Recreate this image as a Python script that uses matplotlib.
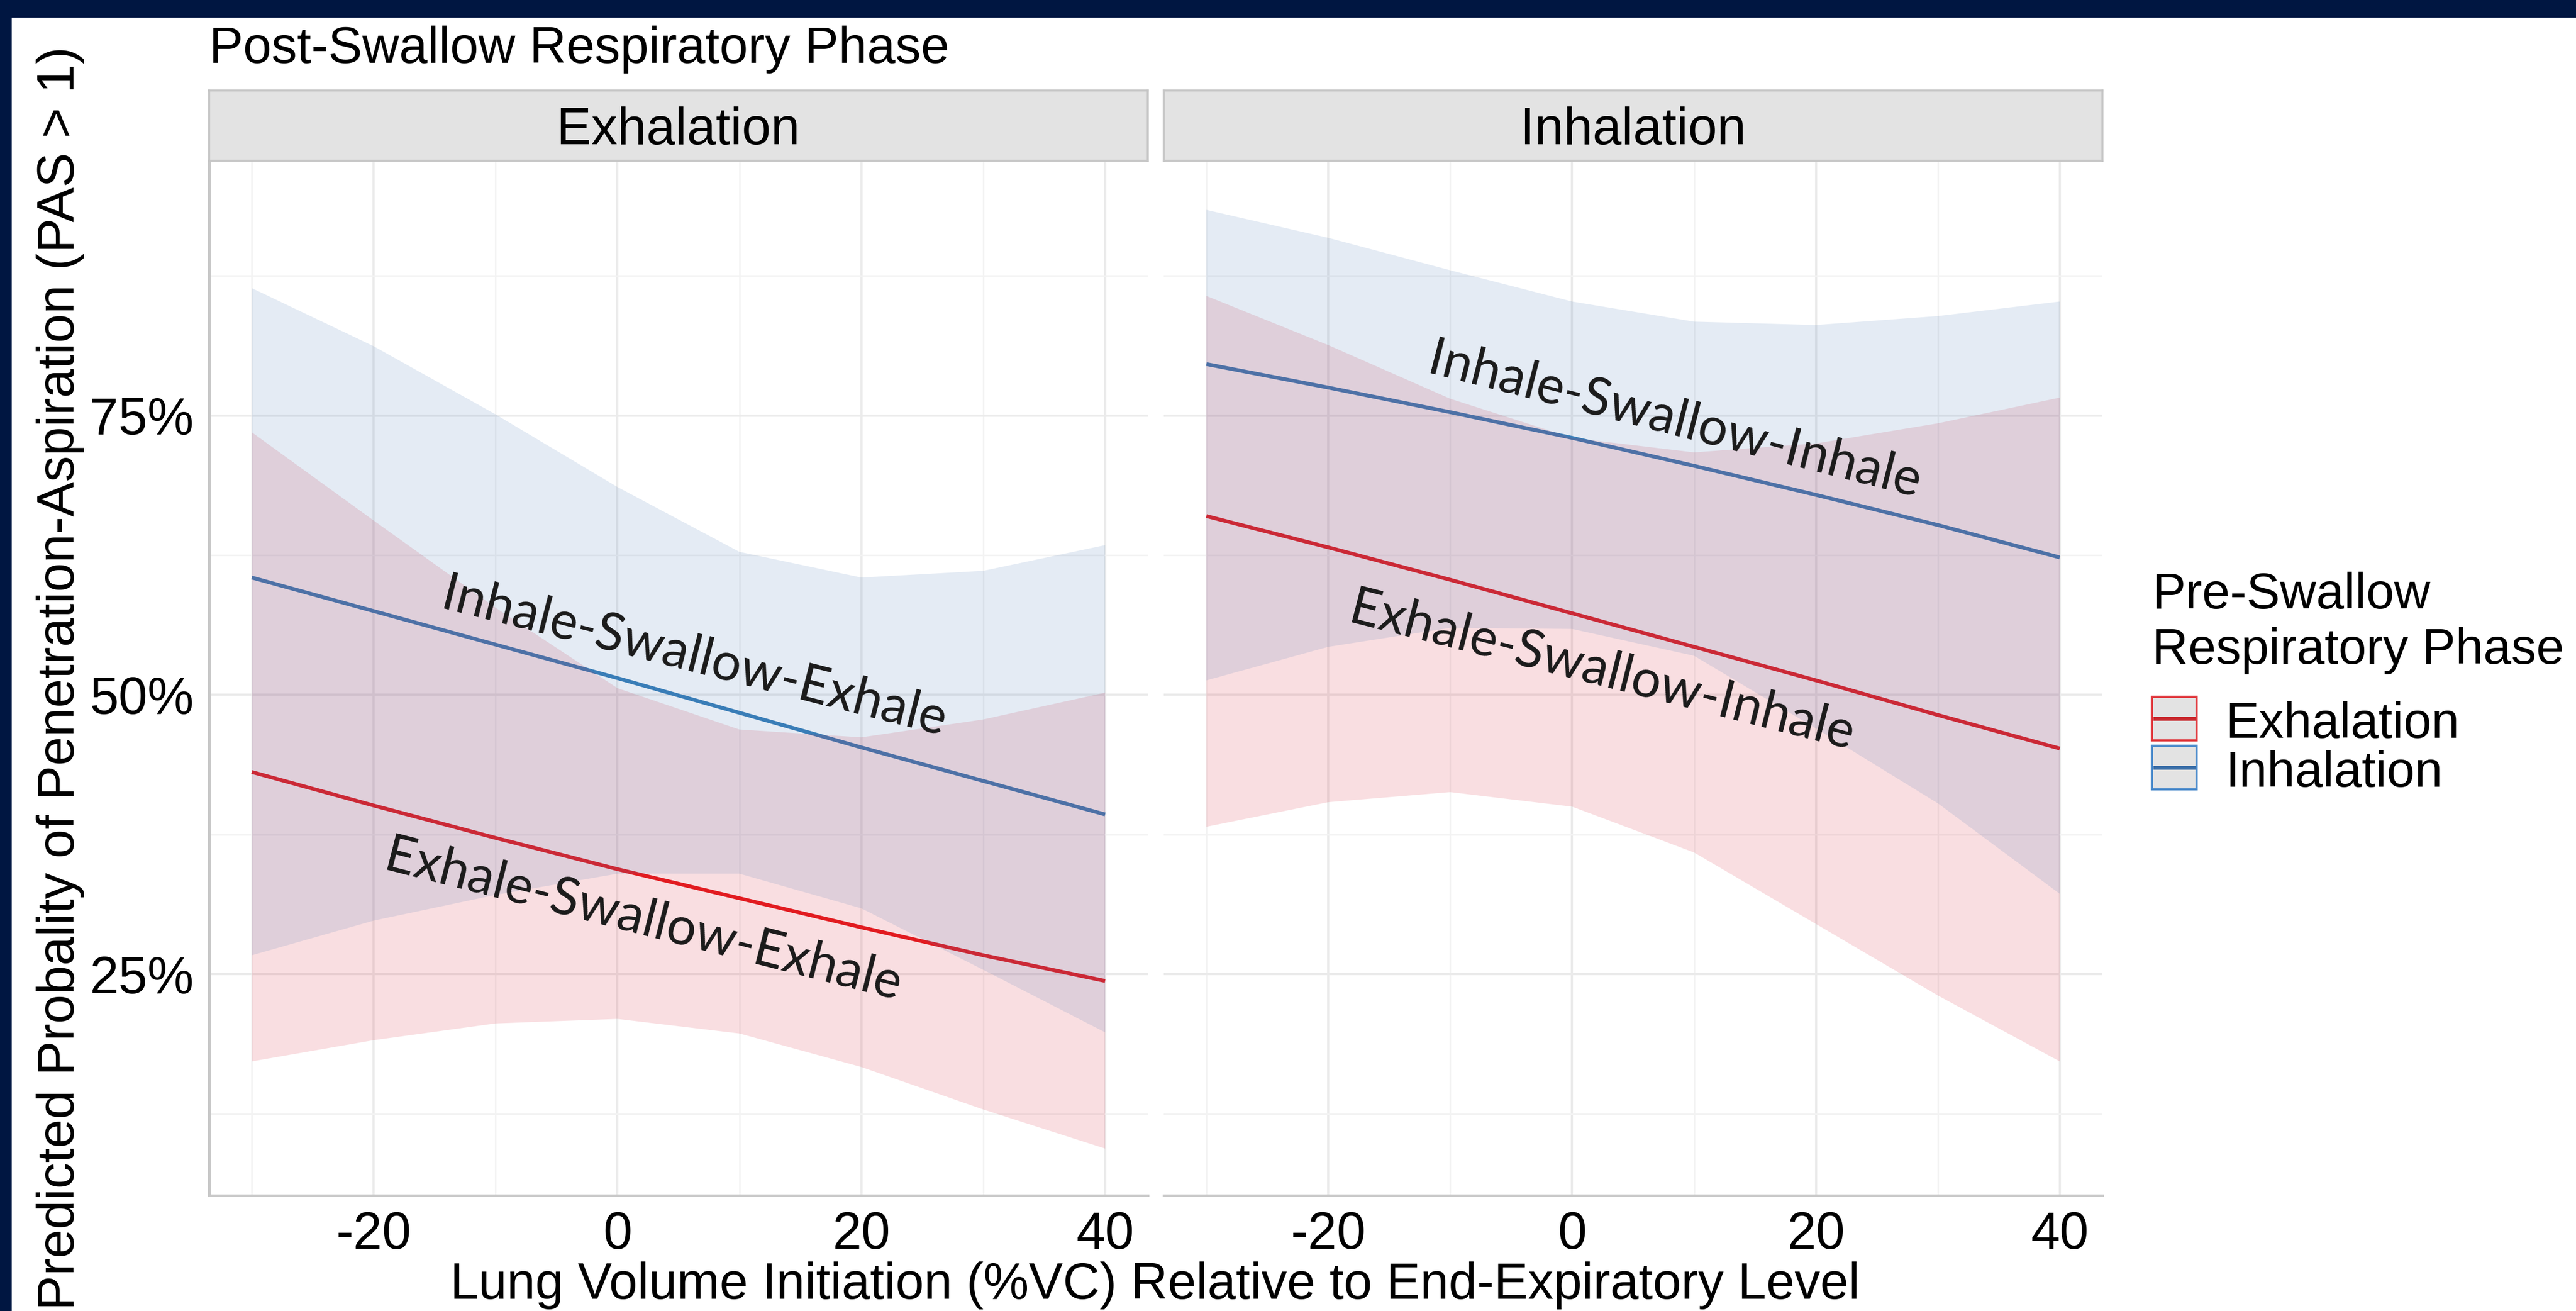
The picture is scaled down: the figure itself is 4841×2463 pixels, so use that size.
import matplotlib
matplotlib.use("Agg")
import matplotlib.pyplot as plt
from matplotlib.patches import Rectangle
from matplotlib.lines import Line2D

plt.rcParams['font.family'] = ['Liberation Sans', 'DejaVu Sans']

# ---------------- data ----------------
x_vals = [-30, -20, -10, 0, 10, 20, 30, 40]
post_phases = ["Exhalation", "Inhalation"]
pre_phases = ["Exhalation", "Inhalation"]

# Post-swallow Exhalation panel
exh_red_fit = [0.431, 0.401, 0.372, 0.344, 0.318, 0.292, 0.267, 0.244]
exh_red_lo = [0.172, 0.191, 0.206, 0.210, 0.197, 0.167, 0.129, 0.094]
exh_red_hi = [0.735, 0.656, 0.578, 0.506, 0.469, 0.462, 0.478, 0.502]
exh_blue_fit = [0.605, 0.575, 0.545, 0.515, 0.484, 0.453, 0.423, 0.393]
exh_blue_lo = [0.267, 0.298, 0.321, 0.340, 0.340, 0.309, 0.254, 0.198]
exh_blue_hi = [0.864, 0.812, 0.751, 0.686, 0.628, 0.605, 0.611, 0.634]

# Post-swallow Inhalation panel
inh_red_fit = [0.660, 0.632, 0.603, 0.573, 0.543, 0.513, 0.482, 0.452]
inh_red_lo = [0.382, 0.404, 0.413, 0.400, 0.359, 0.295, 0.231, 0.172]
inh_red_hi = [0.857, 0.813, 0.765, 0.730, 0.717, 0.725, 0.743, 0.766]
inh_blue_fit = [0.796, 0.775, 0.753, 0.730, 0.705, 0.679, 0.652, 0.623]
inh_blue_lo = [0.513, 0.543, 0.560, 0.559, 0.535, 0.470, 0.403, 0.322]
inh_blue_hi = [0.934, 0.909, 0.880, 0.852, 0.834, 0.831, 0.839, 0.852]

x_ticks = [-20, 0, 20, 40]
x_minor = [-30, -10, 10, 30]
y_ticks = [0.25, 0.50, 0.75]
y_ticklabels = ["25%", "50%", "75%"]
y_minor = [0.125, 0.375, 0.625, 0.875]

# annotation labels: (panel index, x, y, text)
annotations = [
    (0, 6.3, 0.533, "Inhale-Swallow-Exhale"),
    (0, 2.1, 0.298, "Exhale-Swallow-Exhale"),
    (1, 8.4, 0.745, "Inhale-Swallow-Inhale"),
    (1, 2.45, 0.521, "Exhale-Swallow-Inhale"),
]

panel_data = [
    {"red": (exh_red_fit, exh_red_lo, exh_red_hi), "blue": (exh_blue_fit, exh_blue_lo, exh_blue_hi)},
    {"red": (inh_red_fit, inh_red_lo, inh_red_hi), "blue": (inh_blue_fit, inh_blue_lo, inh_blue_hi)},
]

# ---------------- style ----------------
W, H, DPI = 4841, 2463, 300
RED_LINE = "#E41A1C"
BLUE_LINE = "#377EB8"
RED_FILL = "#D72337"
BLUE_FILL = "#4B7AB6"
ALPHA = 0.15
NAVY = "#001641"
FS = 23.5

fig = plt.figure(figsize=(W / DPI, H / DPI), dpi=DPI)
fig.patch.set_facecolor("white")


def fx(px):
    return px / W


def fy(py):
    return 1 - py / H


def rect(x0, y0, x1, y1):
    return [fx(x0), fy(y1), fx(x1) - fx(x0), fy(y0) - fy(y1)]


# navy frame
fig.patches.append(Rectangle((0, fy(33)), 1, 1 - fy(33), transform=fig.transFigure,
                             facecolor=NAVY, edgecolor="none", zorder=10))
fig.patches.append(Rectangle((0, 0), fx(22), 1, transform=fig.transFigure,
                             facecolor=NAVY, edgecolor="none", zorder=10))

panel_x0 = [393, 2187]
PW = 1764
TOP, BOT = 302, 2246
STRIP_TOP = 170

axes = []
for i, post in enumerate(post_phases):
    x0 = panel_x0[i]
    ax = fig.add_axes(rect(x0, TOP, x0 + PW, BOT))
    axes.append(ax)
    ax.set_xlim(-33.5, 43.5)
    ax.set_ylim(0.052, 0.978)
    ax.set_xticks(x_ticks)
    ax.set_xticks(x_minor, minor=True)
    ax.set_yticks(y_ticks)
    ax.set_yticks(y_minor, minor=True)
    ax.set_xticklabels([str(v) for v in x_ticks])
    if i == 0:
        ax.set_yticklabels(y_ticklabels)
    else:
        ax.set_yticklabels([])
    ax.tick_params(which="both", length=0, labelsize=FS, pad=7, labelcolor="black")
    ax.grid(which="major", color="#EBEBEB", lw=1.0)
    ax.grid(which="minor", color="#F3F3F3", lw=0.7)
    ax.set_axisbelow(True)
    for s in ["top", "right"]:
        ax.spines[s].set_visible(False)
    ax.spines["bottom"].set_color("#C8C8C8")
    ax.spines["bottom"].set_linewidth(1.2)
    if i == 0:
        ax.spines["left"].set_color("#C8C8C8")
        ax.spines["left"].set_linewidth(1.2)
    else:
        ax.spines["left"].set_visible(False)

    d = panel_data[i]
    for key, lc, fc in [("red", RED_LINE, RED_FILL), ("blue", BLUE_LINE, BLUE_FILL)]:
        fit, lo, hi = d[key]
        ax.plot(x_vals, fit, color=lc, lw=1.7, zorder=2, solid_capstyle="butt")
    for key, lc, fc in [("red", RED_LINE, RED_FILL), ("blue", BLUE_LINE, BLUE_FILL)]:
        fit, lo, hi = d[key]
        ax.fill_between(x_vals, lo, hi, facecolor=fc, alpha=ALPHA, lw=0, zorder=3)

    # strip
    sax = fig.add_axes(rect(x0, STRIP_TOP, x0 + PW, TOP))
    sax.set_facecolor("#E3E3E3")
    sax.set_xticks([])
    sax.set_yticks([])
    for s in sax.spines.values():
        s.set_color("#C6C6C6")
        s.set_linewidth(0.9)
    sax.text(0.5, 0.43, post, ha="center", va="center", fontsize=FS, transform=sax.transAxes)

# annotations, fitted to measured length
renderer = fig.canvas.get_renderer()
ANN_FONT = "Lato"
probe = fig.text(0, 0, "Inhale-Swallow-Exhale", fontsize=24, family=ANN_FONT)
w_probe = probe.get_window_extent(renderer).width
probe.remove()
ann_fs = 24 * 975 / w_probe
for pi, xa, ya, s in annotations:
    axes[pi].text(xa, ya, s, ha="center", va="center", rotation=-14.3,
                  rotation_mode="anchor", fontsize=ann_fs, family=ANN_FONT,
                  color="#1A1A1A", zorder=5)

# titles
fig.text(fx(393), fy(118), "Post-Swallow Respiratory Phase", ha="left", va="baseline", fontsize=23)
fig.text(fx(2171), fy(2440), "Lung Volume Initiation (%VC) Relative to End-Expiratory Level",
         ha="center", va="baseline", fontsize=23)
fig.text(fx(114), fy(1274), "Predicted Probality of Penetration-Aspiration (PAS > 1)",
         ha="center", va="center", rotation=90, fontsize=23.5)

# legend (drawn manually)
fig.text(fx(4044), fy(1143), "Pre-Swallow", ha="left", va="baseline", fontsize=22.6)
fig.text(fx(4044), fy(1247), "Respiratory Phase", ha="left", va="baseline", fontsize=22.6)
key_rows = [(1306, 1394, "#E0393E", "#C8282D", pre_phases[0], 1386),
            (1398, 1486, "#4A8ACB", "#3A6EA8", pre_phases[1], 1478)]
for y0, y1, ec, lc, lab, base in key_rows:
    fig.patches.append(Rectangle((fx(4044), fy(y1 - 3)), fx(84), fy(y0 + 3) - fy(y1 - 3),
                                 transform=fig.transFigure, facecolor="#E3E3E3",
                                 edgecolor=ec, lw=1.0))
    ym = (y0 + y1) / 2
    fig.lines.append(Line2D([fx(4050), fx(4122)], [fy(ym), fy(ym)], transform=fig.transFigure,
                            color=lc, lw=1.7))
    fig.text(fx(4182), fy(base), lab, ha="left", va="baseline", fontsize=22.6)

fig.savefig("out.png", dpi=DPI, facecolor="white")
